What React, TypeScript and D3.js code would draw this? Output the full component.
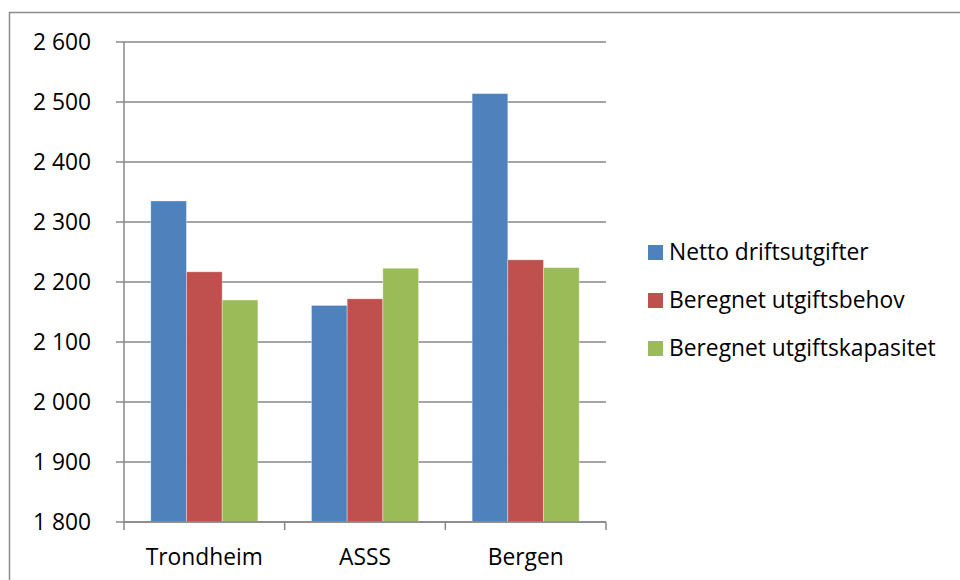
import React from "react";
import * as d3 from "d3";

const categories = ["Trondheim", "ASSS", "Bergen"];
const seriesNames = ["Netto driftsutgifter", "Beregnet utgiftsbehov", "Beregnet utgiftskapasitet"];
const netto = [2335, 2161, 2514];
const behov = [2217, 2172, 2237];
const kapasitet = [2170, 2223, 2224];
const yTicks = [1800, 1900, 2000, 2100, 2200, 2300, 2400, 2500, 2600];
const colors = ["#4F81BD", "#C0504D", "#9BBB59"];

const seriesValues = [netto, behov, kapasitet];

const fmt = (v: number) => {
  const s = String(v);
  return s.length > 3 ? s.slice(0, s.length - 3) + " " + s.slice(-3) : s;
};

export default function App() {
  const left = 124, right = 606, top = 42, bottom = 522;
  const x = d3.scaleBand<string>().domain(categories).range([left, right]).paddingInner(0).paddingOuter(0);
  const y = d3.scaleLinear().domain([1800, 2600]).range([bottom, top]);
  const bw = x.bandwidth();
  const groupW = bw / 1.5;
  const barW = groupW / 3;
  const font = "'Open Sans', sans-serif";
  const fs = 22.8;

  return (
    <svg width={960} height={580} style={{ position: "absolute", left: 0, top: 0, background: "#fff" }} fontFamily={font}>
      <rect x={9.5} y={12.5} width={1000} height={600} fill="#fff" stroke="#8c8c8c" strokeWidth={1.5} />
      {yTicks.map((t) => (
        <g key={t}>
          <line x1={116} x2={right} y1={y(t)} y2={y(t)} stroke="#878787" strokeWidth={1.5} />
          <text x={91} y={y(t)} dy="0.35em" textAnchor="end" fontSize={fs} fill="#000">{fmt(t)}</text>
        </g>
      ))}
      {categories.map((c, ci) =>
        seriesValues.map((vals, si) => {
          const x0 = (x(c) as number) + (bw - groupW) / 2 + si * barW;
          return (
            <rect key={c + si} x={x0} y={y(vals[ci])} width={barW} height={y(1800) - y(vals[ci])}
              fill={colors[si]} stroke="rgba(255,255,255,0.45)" strokeWidth={0.8} />
          );
        })
      )}
      <line x1={left} x2={left} y1={top} y2={bottom + 8} stroke="#878787" strokeWidth={1.5} />
      <line x1={left} x2={right} y1={bottom} y2={bottom} stroke="#878787" strokeWidth={1.5} />
      {categories.map((c, i) => (
        <g key={c}>
          <line x1={(x(c) as number) + bw} x2={(x(c) as number) + bw} y1={bottom} y2={bottom + 8} stroke="#878787" strokeWidth={1.5} />
          <text x={(x(c) as number) + bw / 2} y={565} textAnchor="middle" fontSize={fs} fill="#000">{c}</text>
        </g>
      ))}
      {seriesNames.map((n, i) => (
        <g key={n}>
          <rect x={648} y={245 + i * 48} width={15} height={15} fill={colors[i]} />
          <text x={669} y={252.5 + i * 48} dy="0.35em" fontSize={fs} fill="#000">{n}</text>
        </g>
      ))}
    </svg>
  );
}
